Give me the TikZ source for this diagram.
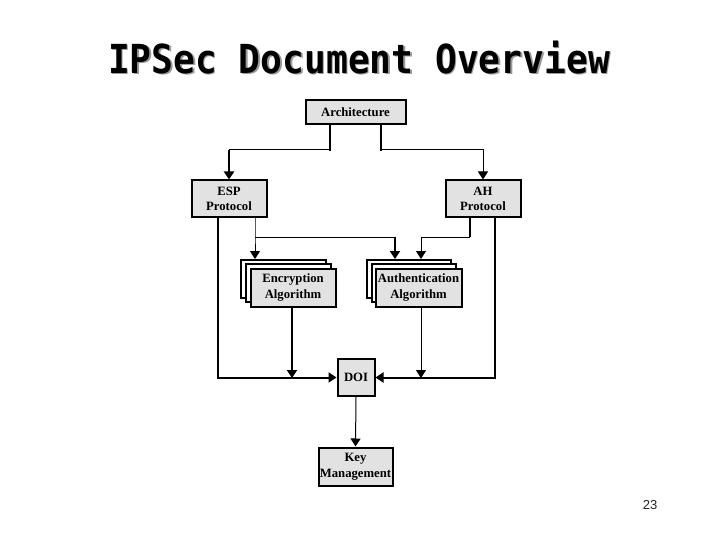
\documentclass[tikz,border=0pt]{standalone}
\usepackage{fontspec}
\setmainfont{Liberation Serif}
\newfontfamily\titlefont{DejaVu Sans Mono}
\newfontfamily\numfont{Liberation Sans}
\usetikzlibrary{arrows.meta,calc}
\definecolor{boxgrey}{HTML}{E2E2E2}
\tikzset{
  box/.style={draw=black,line width=2pt,fill=boxgrey,inner sep=0pt,align=center,
    font=\fontsize{12.7}{15.5}\selectfont\bfseries},
  backbox/.style={draw=black,line width=2pt,fill=white,inner sep=0pt},
  thickline/.style={line width=2pt,line cap=rect},
  thinline/.style={line width=1pt},
  tip/.style={-{Triangle[width=10pt,length=8pt]}},
  titletext/.style={inner sep=0pt,transform shape,xscale=0.906,font=\fontsize{40}{44}\selectfont\titlefont\bfseries}
}
\begin{document}
\begin{tikzpicture}[x=1pt,y=-1pt]
\useasboundingbox (0,0) rectangle (720,540);
\fill[white] (0,0) rectangle (720,540);
% title
\node[titletext,text=black!40] (titleshadow) at (360.5,59) {IPSec Document Overview};
\node[titletext,text=black] (title) at (359,57.5) {IPSec Document Overview};
% boxes
\node[box,minimum width=100pt,minimum height=24pt] (arch) at (355.5,112.5) {Architecture};
\node[box,minimum width=75pt,minimum height=37pt] (esp) at (229,199) {ESP\\Protocol};
\node[box,minimum width=75pt,minimum height=37pt] (ah) at (483,199) {AH\\Protocol};
\node[backbox,minimum width=85pt,minimum height=38pt] (enc3) at (283,279) {};
\node[backbox,minimum width=85pt,minimum height=38pt] (enc2) at (288,283) {};
\node[box,minimum width=85pt,minimum height=38pt] (enc) at (293,287.5) {Encryption\\Algorithm};
\node[backbox,minimum width=84pt,minimum height=38pt] (auth3) at (408.5,279) {};
\node[backbox,minimum width=84pt,minimum height=38pt] (auth2) at (413.5,283) {};
\node[box,minimum width=86pt,minimum height=38pt] (auth) at (418.5,287.5) {Authentication\\Algorithm};
\node[box,minimum width=37pt,minimum height=37pt] (doi) at (356,377.5) {DOI};
\node[box,minimum width=74pt,minimum height=38pt] (key) at (355.5,466.5) {Key\\Management};
% junction points
\coordinate (archL) at ([xshift=-25.5pt]arch.south);
\coordinate (archR) at ([xshift=25.5pt]arch.south);
\coordinate (archLb) at (archL |- 0,150);
\coordinate (archRb) at (archR |- 0,150);
\coordinate (espTop) at (esp.north);
\coordinate (ahTop) at (ah.north);
\coordinate (espOut) at ([xshift=-11pt]esp.south);
\coordinate (ahOut) at ([xshift=12pt]ah.south);
\coordinate (espIn) at ([xshift=26pt]esp.south);
\coordinate (ahIn) at ([xshift=-13pt]ah.south);
\coordinate (encTop) at (enc3.north -| 255,0);
\coordinate (authTopA) at (auth3.north -| 395,0);
\coordinate (authTopB) at (auth3.north -| 421,0);
\coordinate (encOut) at (enc.south -| 292,0);
\coordinate (authOut) at (auth.south -| 421,0);
\coordinate (encEnd) at (292,378);
\coordinate (authEnd) at (421,378);
% Architecture to ESP and AH
\draw[thickline] (archL) -- (archLb);
\draw[thinline] (archLb) -| (espTop |- 0,165);
\draw[line width=2pt,tip] (espTop |- 0,150) -- (espTop);
\draw[thickline] (archR) -- (archRb);
\draw[thinline,tip] (archRb) -| (ahTop);
% ESP and AH to algorithms
\draw[thinline,tip] (espIn) |- (encTop |- 0,237) -- (encTop);
\draw[thinline] (encTop |- 0,237) -- (authTopA |- 0,237);
\draw[line width=2pt,tip] (authTopA |- 0,236.5) -- (authTopA);
\draw[line width=2pt] (ahIn) -- (ahIn |- 0,237);
\draw[thinline,tip] (ahIn |- 0,237) -| (authTopB);
% to DOI
\draw[thickline,tip] (espOut) |- (doi.west);
\draw[thickline,tip] (ahOut) |- (doi.east);
\draw[line width=2pt,tip] (encOut) -- (encEnd);
\draw[thinline,tip] (authOut) -- (authEnd);
\draw[thinline,tip] (doi.south) -- (key.north);
% page number
\node[inner sep=0pt,font=\fontsize{13}{15}\selectfont\numfont,text=black!85] (page) at (650,505) {23};
\end{tikzpicture}
\end{document}
